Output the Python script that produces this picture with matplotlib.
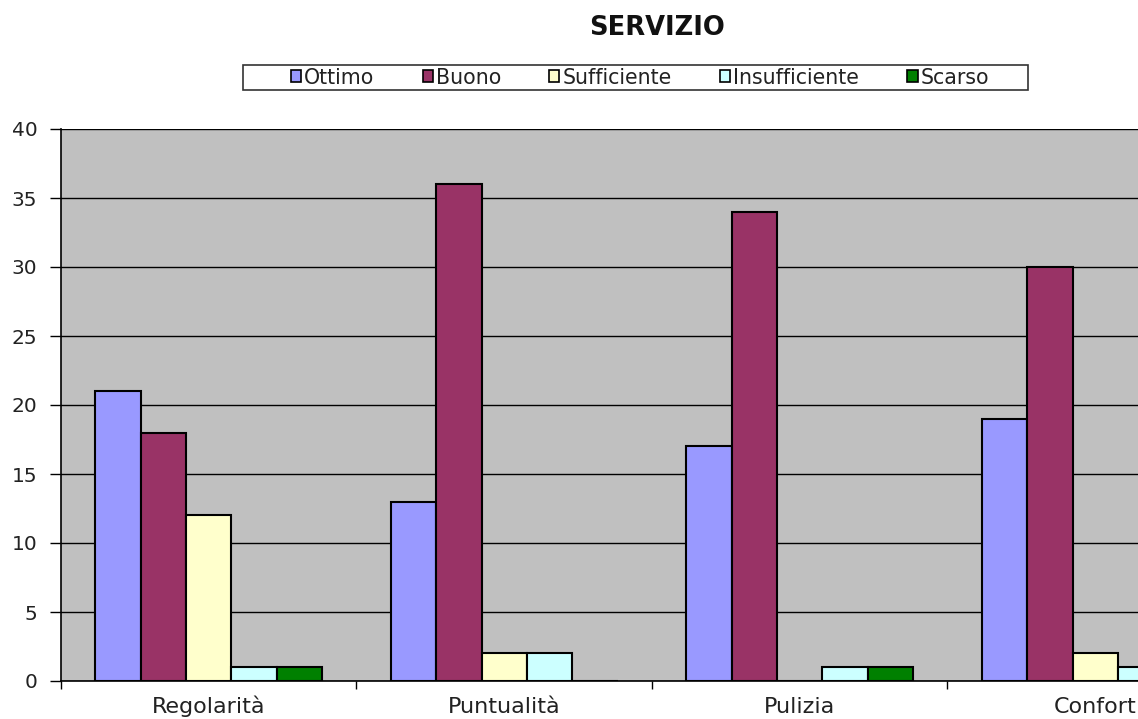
import numpy as np
import matplotlib.pyplot as plt
from matplotlib.patches import Patch, Rectangle

plt.rcParams['font.family'] = ['DejaVu Sans']

# Data
categories = ["Regolarità", "Puntualità", "Pulizia", "Confort"]
series = ["Ottimo", "Buono", "Sufficiente", "Insufficiente", "Scarso"]
ottimo = [21, 13, 17, 19]
buono = [18, 36, 34, 30]
sufficiente = [12, 2, 0, 2]
insufficiente = [1, 2, 1, 1]
scarso = [1, 0, 1, 0]
colors = ["#9999FF", "#993366", "#FFFFCC", "#CCFFFF", "#008000"]

values = [ottimo, buono, sufficiente, insufficiente, scarso]

W, H = 1138, 719
fig = plt.figure(figsize=(W / 100, H / 100), dpi=100)
# plot area runs past the right edge of the image, like the original
ax = fig.add_axes([61 / W, 1 - 681 / H, 1182 / W, 552 / H])
ax.set_facecolor("#C0C0C0")

x = np.arange(len(categories))
w = 1 / 6.5
for i, (name, vals) in enumerate(zip(series, values)):
    ax.bar(x - 2 * w + i * w, vals, width=w, color=colors[i],
           edgecolor="black", linewidth=1.5, label=name, zorder=3)

ax.set_xlim(-0.5, len(categories) - 0.5)
ax.set_ylim(0, 40)
ax.set_yticks(range(0, 41, 5))
ax.yaxis.grid(True, color="black", linewidth=1, zorder=0)
ax.set_axisbelow(True)

ax.set_xticks(x)
ax.set_xticklabels(categories, fontsize=16, color="#222222")
for lab in ax.get_xticklabels():
    lab.set_verticalalignment("baseline")
ax.set_xticks(np.arange(-0.5, len(categories), 1), minor=True)
ax.tick_params(axis="x", which="major", length=0, pad=23)
ax.tick_params(axis="x", which="minor", length=6, width=1, direction="out")
ax.tick_params(axis="y", length=8, width=1, direction="out", labelsize=14.5,
               labelcolor="#222222", pad=9)

for s in ["top", "right"]:
    ax.spines[s].set_visible(False)
ax.spines["left"].set_linewidth(1.2)
ax.spines["bottom"].set_linewidth(1.2)

fig.text(657 / W, 1 - 28 / H, "SERVIZIO", ha="center", va="center",
         fontsize=18.5, fontweight="bold", color="#111111")

# legend box (wide side padding as in the original)
fig.patches.append(Rectangle((243 / W, 1 - 90 / H), (1028 - 243) / W, 25 / H,
                             transform=fig.transFigure, facecolor="white",
                             edgecolor="#333333", linewidth=1.2, zorder=1))
handles = [Patch(facecolor=c, edgecolor="black", linewidth=1.2) for c in colors]
leg = fig.legend(handles, series, loc="center", bbox_to_anchor=(640 / W, 1 - 77.5 / H),
                 ncol=5, fontsize=14.8, frameon=False,
                 handlelength=0.49, handleheight=0.49, handletextpad=0.15,
                 columnspacing=2.35, borderpad=0.1)
for t in leg.get_texts():
    t.set_color("#222222")

fig.savefig("out.png", dpi=100)
